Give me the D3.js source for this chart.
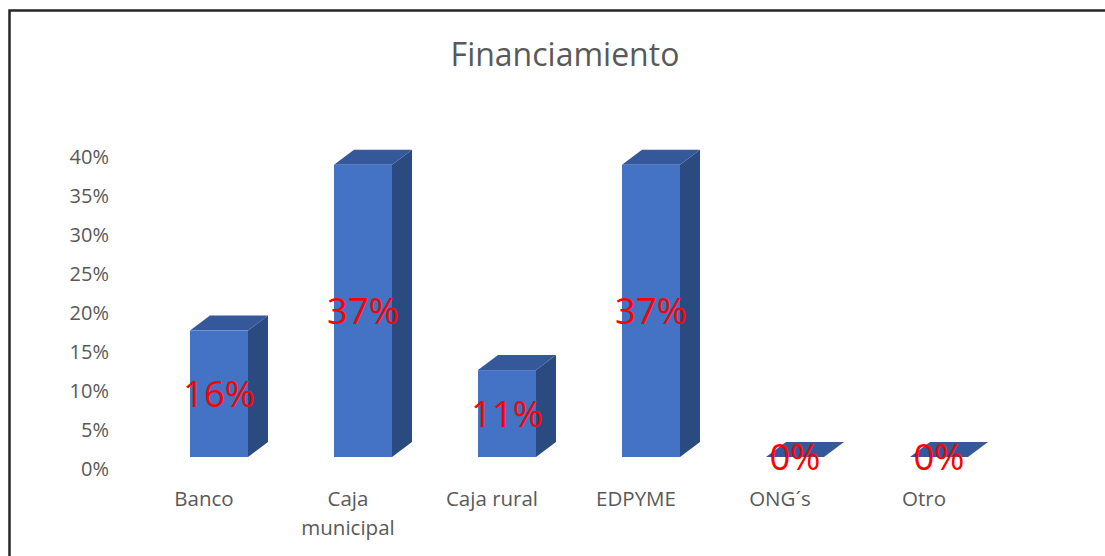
<!DOCTYPE html>
<html>
<head>
<meta charset="utf-8">
<script src="https://cdn.jsdelivr.net/npm/d3@7/dist/d3.min.js"></script>
<style>
  body { margin: 0; background: #fff; }
  svg { display: block; }
</style>
</head>
<body>
<svg id="chart" width="1105" height="556"></svg>
<script>
// data
const categories = ["Banco", "Caja municipal", "Caja rural", "EDPYME", "ONG´s", "Otro"];
const values = [0.16, 0.37, 0.11, 0.37, 0, 0];
const valueLabels = ["16%", "37%", "11%", "37%", "0%", "0%"];
const yTicks = [0, 0.05, 0.1, 0.15, 0.2, 0.25, 0.3, 0.35, 0.4];

const font = "'Open Sans', Lato, sans-serif";
const width = 1105, height = 556;

const svg = d3.select("#chart");

// outer frame (right and bottom edges fall outside the picture)
svg.append("rect")
  .attr("x", 9.5).attr("y", 10.5)
  .attr("width", width + 20).attr("height", height + 20)
  .attr("fill", "none")
  .attr("stroke", "#262626")
  .attr("stroke-width", 2.5);

svg.append("text")
  .attr("x", 565).attr("y", 66)
  .attr("text-anchor", "middle")
  .attr("font-family", font)
  .attr("font-size", 32)
  .attr("fill", "#595959")
  .text("Financiamiento");

const x = d3.scaleBand().domain(categories).range([132, 996]);
const y = d3.scaleLinear().domain([0, 0.4]).range([468, 156]);
// the columns' front faces sit a bit in front of the axis plane
const yBar = d3.scaleLinear().domain([0, 0.4]).range([457, 141]);

// y axis, labels only
const yAxis = d3.axisLeft(y).tickValues(yTicks).tickFormat(d3.format(".0%")).tickSize(0).tickPadding(0);
const gy = svg.append("g").attr("transform", "translate(109,0)").call(yAxis);
gy.select(".domain").remove();
gy.selectAll("text")
  .attr("font-family", font)
  .attr("font-size", 20)
  .attr("fill", "#595959")
  .attr("dy", "0.35em");

// 3D-ish columns, depth goes up-right
const frontW = 58, depthX = 20, depthY = 15, shift = 15;
const bars = svg.append("g");
categories.forEach((c, i) => {
  const x0 = x(c) + x.bandwidth() / 2 + shift - frontW / 2;
  const x1 = x0 + frontW;
  const yb = yBar(0);
  const yt = yBar(values[i]);
  const g = bars.append("g");
  // side
  g.append("path")
    .attr("d", `M${x1},${yt}L${x1 + depthX},${yt - depthY}L${x1 + depthX},${yb - depthY}L${x1},${yb}Z`)
    .attr("fill", "#2b4a80");
  // top
  g.append("path")
    .attr("d", `M${x0},${yt}L${x0 + depthX},${yt - depthY}L${x1 + depthX},${yt - depthY}L${x1},${yt}Z`)
    .attr("fill", "#34589a");
  // front
  if (yb > yt) {
    g.append("rect")
      .attr("x", x0).attr("y", yt)
      .attr("width", frontW).attr("height", yb - yt)
      .attr("fill", "#4472c4");
  }
  g.append("text")
    .attr("x", x0 + frontW / 2)
    .attr("y", (yt + yb) / 2)
    .attr("dy", "0.36em")
    .attr("text-anchor", "middle")
    .attr("font-family", font)
    .attr("font-size", 36.5)
    .attr("fill", "#ff0000")
    .text(valueLabels[i]);
});

// category labels, wrapped like the original
const xg = svg.append("g");
categories.forEach(c => {
  const words = c === "Caja municipal" ? ["Caja", "municipal"] : [c];
  const t = xg.append("text")
    .attr("x", x(c) + x.bandwidth() / 2)
    .attr("y", 506)
    .attr("text-anchor", "middle")
    .attr("font-family", font)
    .attr("font-size", 20.5)
    .attr("fill", "#595959");
  words.forEach((w, k) => {
    t.append("tspan")
      .attr("x", x(c) + x.bandwidth() / 2)
      .attr("dy", k === 0 ? 0 : 29)
      .text(w);
  });
});
</script>
</body>
</html>
